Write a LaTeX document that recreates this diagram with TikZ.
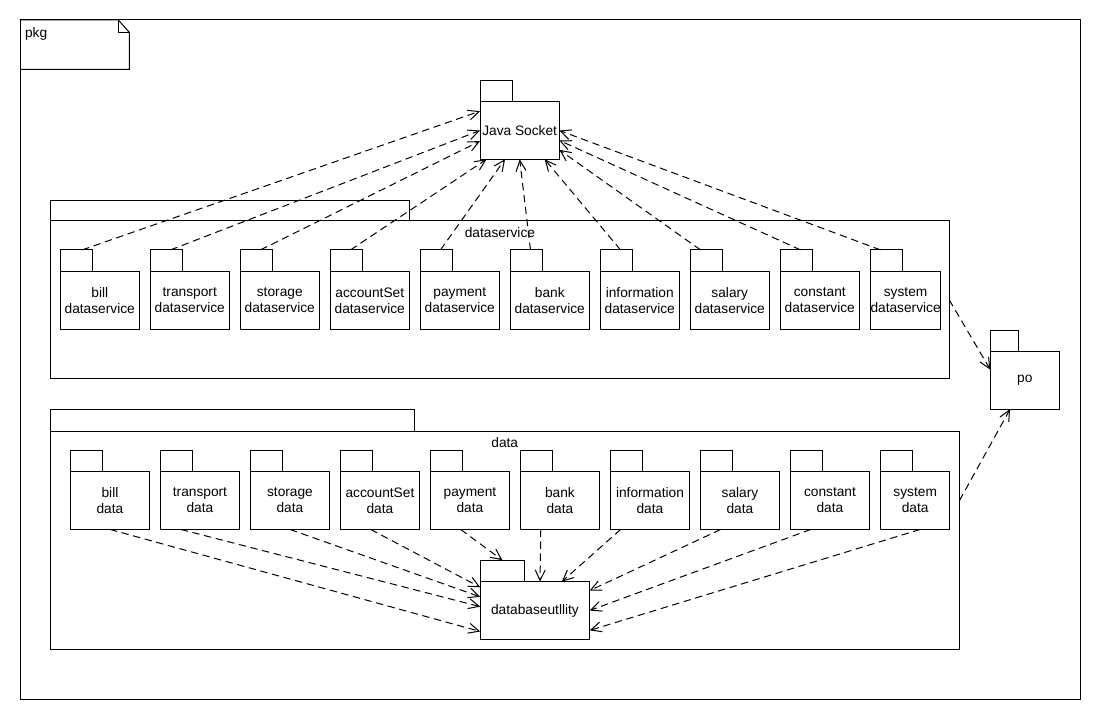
\documentclass[tikz,border=0pt]{standalone}
\usepackage{fontspec}
\setmainfont{Liberation Sans}
\usetikzlibrary{arrows.meta,positioning}
\begin{document}
\begin{tikzpicture}
  [x=0.75pt,y=-0.75pt,line width=0.75pt,
   every node/.style={inner sep=0pt,outer sep=0pt,font=\fontsize{10.3}{12}\selectfont},
   pkgbody/.style={draw,anchor=west,minimum width=58.9pt,minimum height=43.4pt,align=center},
   pkgtab/.style={draw,anchor=south west,minimum width=24pt,minimum height=16.1pt},
   dep/.style={dash pattern=on 5.5pt off 3.5pt,-{Straight Barb[length=8pt,width=7.5pt]}}]
  \fill[white] (0,0) rectangle (1100,720);
  \useasboundingbox (0,0) rectangle (1100,720);

  % frame
  \draw (20,20) rectangle (1080,699);
  \draw (20,20) -- (118.3,20) -- (129.3,32.3) -- (129.3,69.3) -- (20,69.3);
  \draw (118.3,20) -- (118.3,32.3) -- (129.3,32.3);
  \node[anchor=west] (pkg) at (25,34) {pkg};

  % Java Socket and po
  \node[pkgbody,minimum width=59.5pt,minimum height=43.2pt] (js) at (480,130.5) {Java Socket};
  \node[pkgtab,minimum width=24.4pt] (jst) at (js.north west) {};
  \node[pkgbody,minimum width=51.75pt,minimum height=43.3pt] (po) at (990.3,380.2) {po};
  \node[pkgtab,minimum width=21pt,minimum height=15.75pt] (pot) at (po.north west) {};

  % dataservice
  \node[draw,anchor=north west,minimum width=674.1pt,minimum height=118.5pt] (dsf) at (50.5,221) {};
  \node[pkgtab,minimum width=269.6pt,minimum height=15.5pt] (dsft) at (dsf.north west) {};
  \node (dsl) at ([yshift=-8.5pt]dsf.north) {dataservice};
  \foreach \i/\n/\w in {1/bill/58.9,2/transport/58.9,3/storage/58.9,4/accountSet/58.9,5/payment/58.9,
                        6/bank/58.9,7/information/58.9,8/salary/58.9,9/constant/58.9,10/system/51.75} {
    \node[pkgbody,minimum width=\w pt] (ds\i) at ({60.5+90*(\i-1)},300.3) {\n\\dataservice};
    \node[pkgtab] (dst\i) at (ds\i.north west) {};
  }

  % data
  \node[draw,anchor=north west,minimum width=682.1pt,minimum height=163pt] (df) at (50,431.7) {};
  \node[pkgtab,minimum width=273pt,minimum height=16.3pt] (dft) at (df.north west) {};
  \node (dl) at ([yshift=-8pt]df.north) {data};
  \foreach \i/\n/\w in {1/bill/58.9,2/transport/58.9,3/storage/58.9,4/accountSet/58.9,5/payment/58.9,
                        6/bank/58.9,7/information/58.9,8/salary/58.9,9/constant/58.9,10/system/51.75} {
    \node[pkgbody,minimum width=\w pt] (d\i) at ({70.7+90*(\i-1)},500.5) {\n\\data};
    \node[pkgtab] (dt\i) at (d\i.north west) {};
  }

  \node[pkgbody,minimum width=82pt,minimum height=43.2pt] (dbu) at (480.3,610.5) {databaseutllity};
  \node[pkgtab,minimum width=33.2pt] (dbut) at (dbu.north west) {};

  % dependencies
  \foreach \i/\s/\t in {1/4.3/154,2/3/180,3/3/195,4/3/221,5/3/243,6/3/270,7/3/311,8/-4.5/334,9/3/346,10/-4.5/0}
    \draw[dep] ([xshift=\s pt]dst\i.north) -- (js.\t);
  \foreach \i/\s/\t in {1/0/201,2/-14.4/176,3/0/166,4/-7/157,6/-14.4/80,7/-22/47,8/-14.4/20,9/-14.4/0,10/3.75/340}
    \draw[dep] ([xshift=\s pt]d\i.south) -- (dbu.\t);
  \draw[dep] ([xshift=-7pt]d5.south) -- (dbut.north);
  \draw[dep] (dsf.east) -- (po.163);
  \draw[dep] (df.5) -- (po.243);
\end{tikzpicture}
\end{document}
